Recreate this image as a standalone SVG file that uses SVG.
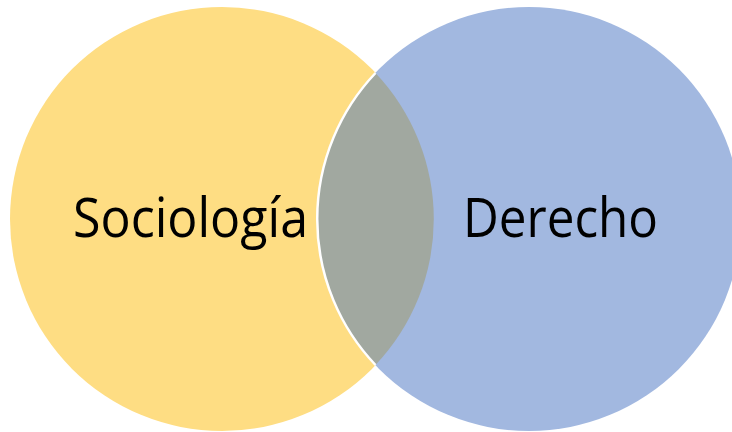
<svg xmlns="http://www.w3.org/2000/svg" width="732" height="432" viewBox="0 0 732 432">
  <style>
    .label { font-family: "Open Sans", "Liberation Sans", sans-serif; font-size: 54px; fill: #000000; }
    .edge { fill: none; stroke: #ffffff; stroke-width: 2.5; }
  </style>
  <rect width="732" height="432" fill="#ffffff"/>
  <!-- Venn: two sets and their overlap -->
  <g id="sociologia">
    <circle cx="222" cy="219" r="212" fill="#FEDD83"/>
  </g>
  <g id="derecho">
    <circle cx="529" cy="219" r="212" fill="#A2B8E0"/>
  </g>
  <g id="interseccion">
    <path d="M 375.5 73 A 212 212 0 0 1 375.5 365 A 212 212 0 0 1 375.5 73 Z" fill="#A1A8A0"/>
    <path class="edge" d="M 375.5 365 A 212 212 0 0 1 375.5 73"/>
  </g>
  <g id="labels">
    <text class="label" x="73" y="237" textLength="235" lengthAdjust="spacingAndGlyphs">Sociología</text>
    <text class="label" x="463" y="237" textLength="195" lengthAdjust="spacingAndGlyphs">Derecho</text>
  </g>
</svg>
